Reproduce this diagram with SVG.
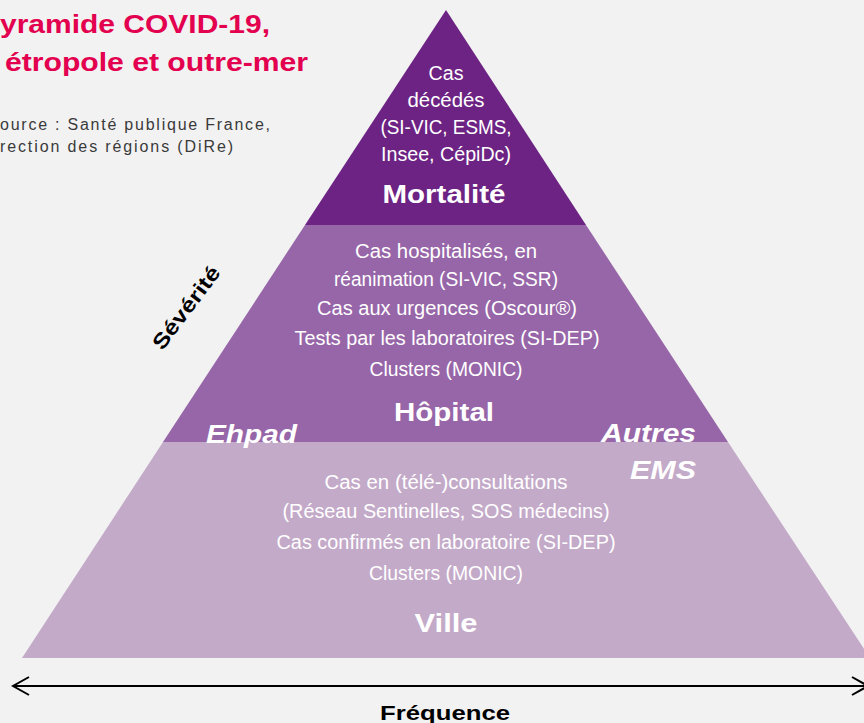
<svg xmlns="http://www.w3.org/2000/svg" width="864" height="723" viewBox="0 0 864 723">
<style>
.bg{fill:#f2f2f2}
.title{font-family:"Liberation Sans",Arial,sans-serif;font-weight:bold;font-size:26px;fill:#e2004f}
.src{font-family:"Liberation Sans",Arial,sans-serif;font-size:16px;fill:#3a3a3a}
.body{font-family:"Liberation Sans Narrow","Arial Narrow","Liberation Sans",sans-serif;font-size:20px;fill:#ffffff;text-anchor:middle}
.lbl{font-family:"Liberation Sans",Arial,sans-serif;font-weight:bold;font-size:26px;fill:#ffffff;text-anchor:middle}
.side{font-family:"Liberation Sans",Arial,sans-serif;font-weight:bold;font-style:italic;font-size:26px;fill:#ffffff}
.axis{font-family:"Liberation Sans Narrow","Arial Narrow","Liberation Sans",sans-serif;font-weight:bold;font-size:21px;fill:#000000;text-anchor:middle}
.conn{stroke:#000;stroke-width:2;fill:none}
</style>
<defs>
<marker id="chev" viewBox="0 0 20 20" refX="18" refY="10" markerWidth="20" markerHeight="20" markerUnits="userSpaceOnUse" orient="auto-start-reverse">
<path d="M2,1 L18,10 L2,19" fill="none" stroke="#000" stroke-width="2"/>
</marker>
</defs>
<rect class="bg" x="0" y="0" width="864" height="723"/>
<g id="title">
<text class="title" x="0" y="33" textLength="270" lengthAdjust="spacingAndGlyphs">yramide COVID-19,</text>
<text class="title" x="5" y="71" textLength="303" lengthAdjust="spacingAndGlyphs">étropole et outre-mer</text>
<text class="src" x="0" y="130" textLength="270" lengthAdjust="spacing">ource : Santé publique France,</text>
<text class="src" x="0" y="152" textLength="233" lengthAdjust="spacing">rection des régions (DiRe)</text>
</g>
<g id="ville">
<polygon points="163,442 728,442 870,658 22,658" fill="#c4aac9"/>
<text class="body" x="446" y="489" textLength="243" lengthAdjust="spacingAndGlyphs">Cas en (télé-)consultations</text>
<text class="body" x="446" y="518" textLength="327" lengthAdjust="spacingAndGlyphs">(Réseau Sentinelles, SOS médecins)</text>
<text class="body" x="446" y="549" textLength="339" lengthAdjust="spacingAndGlyphs">Cas confirmés en laboratoire (SI-DEP)</text>
<text class="body" x="446" y="580" textLength="154" lengthAdjust="spacingAndGlyphs">Clusters (MONIC)</text>
<text class="lbl" x="446" y="632" textLength="63" lengthAdjust="spacingAndGlyphs">Ville</text>
</g>
<g id="hopital">
<polygon points="305,225 586,225 728,442 163,442" fill="#9766a8"/>
<text class="body" x="446" y="258" textLength="182" lengthAdjust="spacingAndGlyphs">Cas hospitalisés, en</text>
<text class="body" x="446" y="286" textLength="224" lengthAdjust="spacingAndGlyphs">réanimation (SI-VIC, SSR)</text>
<text class="body" x="447" y="315" textLength="260" lengthAdjust="spacingAndGlyphs">Cas aux urgences (Oscour®)</text>
<text class="body" x="447" y="345" textLength="305" lengthAdjust="spacingAndGlyphs">Tests par les laboratoires (SI-DEP)</text>
<text class="body" x="446" y="376" textLength="153" lengthAdjust="spacingAndGlyphs">Clusters (MONIC)</text>
<text class="lbl" x="444" y="421" textLength="100" lengthAdjust="spacingAndGlyphs">Hôpital</text>
</g>
<g id="mortalite">
<polygon points="446,10 586,225 305,225" fill="#6c2383"/>
<text class="body" x="446" y="80" textLength="35" lengthAdjust="spacingAndGlyphs">Cas</text>
<text class="body" x="446" y="107" textLength="77" lengthAdjust="spacingAndGlyphs">décédés</text>
<text class="body" x="446" y="134" textLength="131" lengthAdjust="spacingAndGlyphs">(SI-VIC, ESMS,</text>
<text class="body" x="446" y="161" textLength="130" lengthAdjust="spacingAndGlyphs">Insee, CépiDc)</text>
<text class="lbl" x="444" y="203" textLength="123" lengthAdjust="spacingAndGlyphs">Mortalité</text>
</g>
<g id="ehpad">
<text class="side" x="206" y="443" textLength="91" lengthAdjust="spacingAndGlyphs">Ehpad</text>
</g>
<g id="autres-ems">
<text class="side" x="601" y="442" textLength="95" lengthAdjust="spacingAndGlyphs">Autres</text>
<text class="side" x="630" y="479" textLength="66" lengthAdjust="spacingAndGlyphs">EMS</text>
</g>
<g id="severite">
<text class="axis" x="0" y="0" transform="translate(192,312) rotate(-53)" textLength="98" lengthAdjust="spacingAndGlyphs">Sévérité</text>
</g>
<g id="connectors">
<line class="conn" x1="13" y1="686" x2="868" y2="686" marker-start="url(#chev)" marker-end="url(#chev)"/>
</g>
<g id="frequence">
<text class="axis" x="445" y="720" textLength="130" lengthAdjust="spacingAndGlyphs">Fréquence</text>
</g>
</svg>
